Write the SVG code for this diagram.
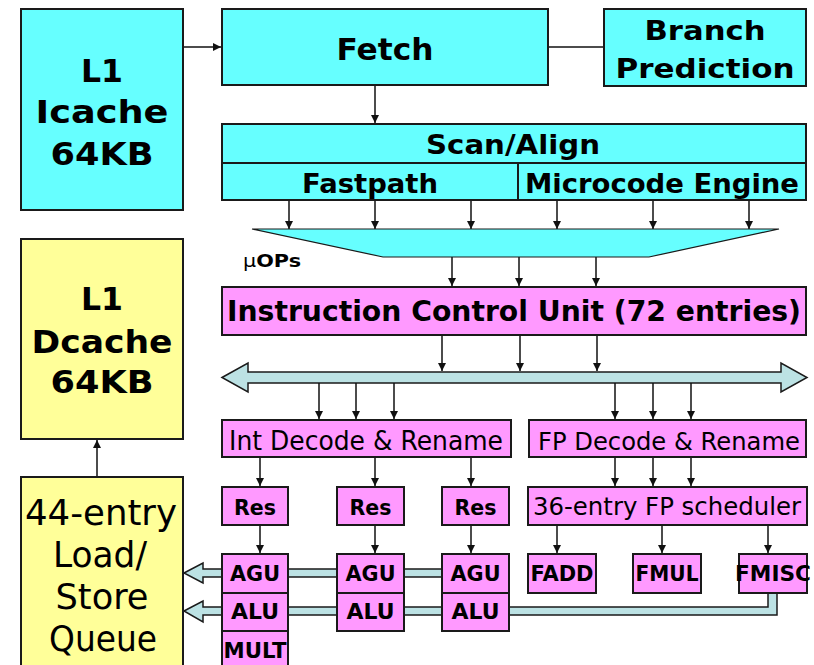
<svg xmlns="http://www.w3.org/2000/svg" width="814" height="665" viewBox="0 0 814 665">
  <defs>
    <marker id="ah" viewBox="0 0 10 10" refX="10" refY="5" markerWidth="8" markerHeight="8" markerUnits="userSpaceOnUse" orient="auto">
      <path d="M0,0 L10,5 L0,10 z" fill="#111"/>
    </marker>
    <style>
      .box { stroke: #1a1a1a; stroke-width: 2; }
      .cyan { fill: #66ffff; }
      .pink { fill: #ff99ff; }
      .yellow { fill: #ffff99; }
      .pipe { fill: #bce2e4; stroke: #1a1a1a; stroke-width: 1.5; stroke-linejoin: miter; }
      .wire { stroke: #111; stroke-width: 1.5; fill: none; }
      .arr { stroke: #111; stroke-width: 1.5; fill: none; marker-end: url(#ah); }
      text { font-family: "DejaVu Sans", Verdana, sans-serif; fill: #000; text-anchor: middle; }
      .b { font-weight: bold; }
      .n { font-weight: normal; }
    </style>
  </defs>
  <rect width="814" height="665" fill="#ffffff"/>

  <!-- connectors: buses, result pipes and arrows -->
  <g id="connectors">
    <!-- result buses back to the load/store queue -->
    <path class="pipe" d="M184,573 L203,563 L203,569 L442,569 L442,577 L203,577 L203,583 Z"/>
    <path class="pipe" d="M184,611 L203,601 L203,607 L768,607 L768,593 L777,593 L777,615 L203,615 L203,622 Z"/>
    <!-- dispatch bus -->
    <path class="pipe" d="M222,377.5 L248,363 L248,372 L781,372 L781,363 L807,377.5 L781,392 L781,383 L248,383 L248,392 Z"/>

    <path class="arr" d="M183,47 H221"/>
    <path class="wire" d="M548,47 H604"/>
    <path class="arr" d="M375,85 V123"/>

    <path class="arr" d="M289,200 V229"/>
    <path class="arr" d="M375,200 V229"/>
    <path class="arr" d="M471,200 V229"/>
    <path class="arr" d="M557,200 V229"/>
    <path class="arr" d="M653,200 V229"/>
    <path class="arr" d="M749,200 V229"/>

    <path class="arr" d="M452,257 V286"/>
    <path class="arr" d="M519,257 V286"/>
    <path class="arr" d="M596,257 V286"/>

    <path class="arr" d="M442,335 V371"/>
    <path class="arr" d="M520,335 V371"/>
    <path class="arr" d="M597,335 V371"/>

    <path class="arr" d="M319,383 V419"/>
    <path class="arr" d="M356,383 V419"/>
    <path class="arr" d="M394,383 V419"/>
    <path class="arr" d="M615,383 V419"/>
    <path class="arr" d="M653,383 V419"/>
    <path class="arr" d="M691,383 V419"/>

    <path class="arr" d="M260,457 V486"/>
    <path class="arr" d="M375,457 V486"/>
    <path class="arr" d="M471,457 V486"/>
    <path class="arr" d="M615,457 V486"/>
    <path class="arr" d="M653,457 V486"/>
    <path class="arr" d="M691,457 V486"/>

    <path class="arr" d="M260,525 V553"/>
    <path class="arr" d="M375,525 V553"/>
    <path class="arr" d="M471,525 V553"/>
    <path class="arr" d="M557,525 V553"/>
    <path class="arr" d="M662,525 V553"/>
    <path class="arr" d="M768,525 V553"/>

    <path class="arr" d="M97,477 V440"/>
  </g>

  <!-- front end -->
  <g id="icache">
    <rect class="box cyan" x="21" y="9" width="162" height="201"/>
    <text class="b" x="102" y="82" font-size="32" textLength="42" lengthAdjust="spacingAndGlyphs">L1</text>
    <text class="b" x="102" y="123" font-size="32" textLength="133" lengthAdjust="spacingAndGlyphs">Icache</text>
    <text class="b" x="102" y="165" font-size="32" textLength="103" lengthAdjust="spacingAndGlyphs">64KB</text>
  </g>
  <g id="fetch">
    <rect class="box cyan" x="222" y="9" width="326" height="76"/>
    <text class="b" x="385" y="60" font-size="31" textLength="97" lengthAdjust="spacingAndGlyphs">Fetch</text>
  </g>
  <g id="branch-prediction">
    <rect class="box cyan" x="604" y="9" width="202" height="77"/>
    <text class="b" x="705" y="40" font-size="27" textLength="121" lengthAdjust="spacingAndGlyphs">Branch</text>
    <text class="b" x="705" y="78" font-size="27" textLength="179" lengthAdjust="spacingAndGlyphs">Prediction</text>
  </g>
  <g id="scan-align">
    <rect class="box cyan" x="222" y="124" width="584" height="76"/>
    <line class="box" x1="222" y1="163" x2="806" y2="163"/>
    <line class="box" x1="518" y1="163" x2="518" y2="200"/>
    <text class="b" x="513" y="154" font-size="26" textLength="174" lengthAdjust="spacingAndGlyphs">Scan/Align</text>
    <text class="b" x="370" y="193" font-size="26" textLength="136" lengthAdjust="spacingAndGlyphs">Fastpath</text>
    <text class="b" x="662" y="193" font-size="26" textLength="274" lengthAdjust="spacingAndGlyphs">Microcode Engine</text>
  </g>
  <g id="uops">
    <polygon points="252,229 779,229 649,257 383,257" fill="#66ffff" stroke="#1a1a1a" stroke-width="1.2"/>
    <text x="272" y="267" font-size="18" textLength="58" lengthAdjust="spacingAndGlyphs"><tspan class="n">μ</tspan><tspan class="b">OPs</tspan></text>
  </g>
  <g id="icu">
    <rect class="box pink" x="222" y="287" width="584" height="48"/>
    <text class="b" x="514" y="321" font-size="28" textLength="574" lengthAdjust="spacingAndGlyphs">Instruction Control Unit (72 entries)</text>
  </g>

  <!-- decode and scheduling -->
  <g id="int-decode">
    <rect class="box pink" x="222" y="420" width="289" height="37"/>
    <text class="n" x="366" y="450" font-size="26" textLength="274" lengthAdjust="spacingAndGlyphs">Int Decode &amp; Rename</text>
  </g>
  <g id="fp-decode">
    <rect class="box pink" x="529" y="420" width="277" height="37"/>
    <text class="n" x="669" y="450" font-size="25" textLength="262" lengthAdjust="spacingAndGlyphs">FP Decode &amp; Rename</text>
  </g>
  <g id="res-0">
    <rect class="box pink" x="222" y="487" width="66" height="38"/>
    <text class="b" x="255" y="515" font-size="21" textLength="42" lengthAdjust="spacingAndGlyphs">Res</text>
  </g>
  <g id="res-1">
    <rect class="box pink" x="337" y="487" width="67" height="38"/>
    <text class="b" x="370.5" y="515" font-size="21" textLength="42" lengthAdjust="spacingAndGlyphs">Res</text>
  </g>
  <g id="res-2">
    <rect class="box pink" x="442" y="487" width="67" height="38"/>
    <text class="b" x="475.5" y="515" font-size="21" textLength="42" lengthAdjust="spacingAndGlyphs">Res</text>
  </g>
  <g id="fp-scheduler">
    <rect class="box pink" x="528" y="487" width="279" height="38"/>
    <text class="n" x="667" y="515" font-size="24" textLength="268" lengthAdjust="spacingAndGlyphs">36-entry FP scheduler</text>
  </g>

  <!-- integer execution units -->
  <g id="agu-0">
    <rect class="box pink" x="222" y="554" width="66" height="39"/>
    <text class="b" x="255" y="581" font-size="21" textLength="50" lengthAdjust="spacingAndGlyphs">AGU</text>
  </g>
  <g id="alu-0">
    <rect class="box pink" x="222" y="593" width="66" height="38"/>
    <text class="b" x="255" y="619" font-size="21" textLength="48" lengthAdjust="spacingAndGlyphs">ALU</text>
  </g>
  <g id="mult">
    <rect class="box pink" x="222" y="631" width="66" height="50"/>
    <text class="b" x="255" y="658" font-size="21" textLength="63" lengthAdjust="spacingAndGlyphs">MULT</text>
  </g>
  <g id="agu-1">
    <rect class="box pink" x="337" y="554" width="67" height="39"/>
    <text class="b" x="370.5" y="581" font-size="21" textLength="50" lengthAdjust="spacingAndGlyphs">AGU</text>
  </g>
  <g id="alu-1">
    <rect class="box pink" x="337" y="593" width="67" height="38"/>
    <text class="b" x="370.5" y="619" font-size="21" textLength="48" lengthAdjust="spacingAndGlyphs">ALU</text>
  </g>
  <g id="agu-2">
    <rect class="box pink" x="442" y="554" width="67" height="39"/>
    <text class="b" x="475.5" y="581" font-size="21" textLength="50" lengthAdjust="spacingAndGlyphs">AGU</text>
  </g>
  <g id="alu-2">
    <rect class="box pink" x="442" y="593" width="67" height="38"/>
    <text class="b" x="475.5" y="619" font-size="21" textLength="48" lengthAdjust="spacingAndGlyphs">ALU</text>
  </g>

  <!-- floating point units -->
  <g id="fadd">
    <rect class="box pink" x="528" y="554" width="68" height="39"/>
    <text class="b" x="562" y="581" font-size="21" textLength="63" lengthAdjust="spacingAndGlyphs">FADD</text>
  </g>
  <g id="fmul">
    <rect class="box pink" x="633" y="554" width="68" height="39"/>
    <text class="b" x="667" y="581" font-size="21" textLength="63" lengthAdjust="spacingAndGlyphs">FMUL</text>
  </g>
  <g id="fmisc">
    <rect class="box pink" x="739" y="554" width="68" height="39"/>
    <text class="b" x="773" y="581" font-size="21" textLength="76" lengthAdjust="spacingAndGlyphs">FMISC</text>
  </g>

  <!-- memory side -->
  <g id="dcache">
    <rect class="box yellow" x="21" y="239" width="162" height="200"/>
    <text class="b" x="102" y="310" font-size="32" textLength="42" lengthAdjust="spacingAndGlyphs">L1</text>
    <text class="b" x="102" y="353" font-size="32" textLength="141" lengthAdjust="spacingAndGlyphs">Dcache</text>
    <text class="b" x="102" y="393" font-size="32" textLength="103" lengthAdjust="spacingAndGlyphs">64KB</text>
  </g>
  <g id="load-store-queue">
    <rect class="box yellow" x="21" y="477" width="162" height="210"/>
    <text class="n" x="101" y="525" font-size="36" textLength="152" lengthAdjust="spacingAndGlyphs">44-entry</text>
    <text class="n" x="100" y="567" font-size="36" textLength="94" lengthAdjust="spacingAndGlyphs">Load/</text>
    <text class="n" x="102" y="609" font-size="36" textLength="93" lengthAdjust="spacingAndGlyphs">Store</text>
    <text class="n" x="103" y="651" font-size="36" textLength="108" lengthAdjust="spacingAndGlyphs">Queue</text>
  </g>
</svg>
